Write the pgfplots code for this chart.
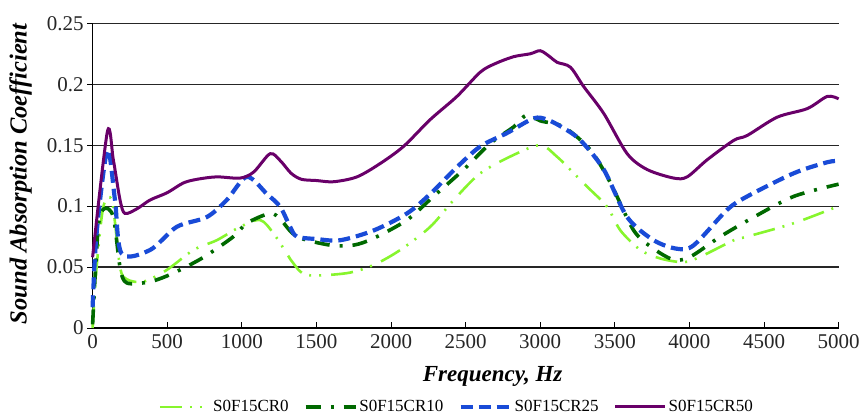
\documentclass[border=0pt]{standalone}
\usepackage{pgfplots}
\pgfplotsset{compat=1.18}
\usepackage{fontspec}
\setmainfont{Liberation Serif}
\definecolor{cLime}{RGB}{135,245,45}
\definecolor{cDG}{RGB}{0,105,0}
\definecolor{cBlue}{RGB}{25,75,215}
\definecolor{cPur}{RGB}{105,0,105}
\begin{document}
\begin{tikzpicture}
\useasboundingbox (-92.6pt,-89pt) rectangle (771.4pt,328pt);
\begin{axis}[
  scale only axis,
  width=746pt, height=304.7pt,
  xmin=0, xmax=5000, ymin=0, ymax=0.25,
  axis x line=bottom, axis y line=left,
  axis line style={-, line width=1.3pt, black},
  xtick={0,500,...,5000},
  ytick={0,0.05,0.1,0.15,0.2,0.25},
  yticklabels={0,0.05,0.1,0.15,0.2,0.25},
  xticklabels={0,500,1000,1500,2000,2500,3000,3500,4000,4500,5000},
  major tick length=5.5pt,
  x tick style={black, line width=1pt},
  y tick style={black, line width=1pt},
  xtick align=inside, ytick align=outside,
  ymajorgrids, grid style={black!85, line width=1.2pt},
  tick label style={font=\fontsize{21}{21}\selectfont, text=black!85},
  xticklabel style={yshift=-3pt},
  xlabel={Frequency, Hz},
  ylabel={Sound Absorption Coefficient},
  label style={font=\fontsize{23}{23}\selectfont\bfseries\itshape},
  xlabel style={at={(axis description cs:0.5362,-0.16)}, anchor=center},
  ylabel style={at={(axis description cs:-0.0965,0.506)}, anchor=center, font=\fontsize{24.5}{24.5}\selectfont\bfseries\itshape},
  legend style={at={(0.488,-0.259)}, anchor=center, draw=none, fill=none,
    font=\fontsize{17}{17}\selectfont, legend columns=4,
    /tikz/every even column/.append style={column sep=13pt}},
  legend image code/.code={\draw[#1] (0pt,0pt) -- (50pt,0pt);},
  legend cell align=left,
  clip=false,
]
\addplot[cLime, line width=2.6pt, smooth, dash pattern=on 22pt off 8pt on 2pt off 8pt on 2pt off 10pt] coordinates {
(0,0) (27,0.05) (72,0.0995) (130,0.104) (184,0.05) (229,0.04) (340,0.038) (497,0.0476) (676,0.064) (832,0.072) (989,0.083) (1123,0.0886) (1212,0.0777) (1302,0.061) (1346,0.053) (1436,0.0435) (1704,0.045) (1883,0.0517) (2062,0.064) (2263,0.083) (2420,0.105) (2599,0.127) (2822,0.142) (3001,0.150) (3113,0.1405) (3225,0.127) (3314,0.116) (3448,0.0995) (3538,0.080) (3672,0.064) (3806,0.057) (3962,0.054) (4074,0.0585) (4298,0.072) (4388,0.075) (4700,0.086) (5000,0.100)
};
\addlegendentry{S0F15CR0}
\addplot[cDG, line width=3.6pt, smooth, dash pattern=on 15pt off 10pt on 3pt off 10pt] coordinates {
(0,0.003) (38,0.083) (80,0.098) (139,0.091) (184,0.050) (229,0.037) (385,0.038) (541,0.045) (743,0.058) (944,0.075) (1034,0.086) (1190,0.094) (1260,0.089) (1369,0.075) (1592,0.068) (1749,0.068) (1883,0.0736) (2107,0.0886) (2285,0.108) (2487,0.130) (2666,0.1515) (2822,0.165) (2912,0.175) (3000,0.170) (3157,0.165) (3337,0.146) (3471,0.119) (3627,0.080) (3761,0.065) (3895,0.056) (4007,0.0585) (4208,0.075) (4432,0.091) (4700,0.108) (5000,0.118)
};
\addlegendentry{S0F15CR10}
\addplot[cBlue, line width=4.2pt, smooth, dash pattern=on 12pt off 6pt] coordinates {
(0,0.017) (27,0.078) (99,0.146) (150,0.105) (195,0.061) (385,0.064) (564,0.083) (765,0.091) (899,0.105) (1034,0.124) (1168,0.110) (1257,0.0995) (1324,0.083) (1369,0.075) (1500,0.073) (1659,0.072) (1883,0.080) (2107,0.094) (2263,0.110) (2442,0.132) (2599,0.149) (2778,0.160) (2956,0.172) (3046,0.171) (3157,0.164) (3270,0.154) (3426,0.130) (3583,0.091) (3761,0.072) (3918,0.065) (4030,0.068) (4253,0.097) (4388,0.108) (4700,0.127) (4924,0.136) (5000,0.137)
};
\addlegendentry{S0F15CR25}
\addplot[cPur, line width=3pt, smooth] coordinates {
(0,0.058) (99,0.161) (139,0.138) (184,0.105) (217,0.094) (300,0.098) (385,0.105) (500,0.111) (608,0.119) (700,0.122) (832,0.124) (989,0.123) (1080,0.128) (1190,0.143) (1260,0.137) (1330,0.127) (1400,0.122) (1500,0.121) (1615,0.120) (1772,0.124) (1928,0.135) (2084,0.149) (2263,0.171) (2442,0.190) (2599,0.210) (2700,0.217) (2822,0.2226) (2934,0.225) (3000,0.2275) (3060,0.223) (3113,0.218) (3202,0.214) (3292,0.198) (3426,0.176) (3583,0.143) (3717,0.130) (3895,0.123) (3985,0.124) (4119,0.138) (4298,0.154) (4388,0.158) (4589,0.173) (4790,0.180) (4924,0.190) (5000,0.188)
};
\addlegendentry{S0F15CR50}
\end{axis}
\end{tikzpicture}
\end{document}
